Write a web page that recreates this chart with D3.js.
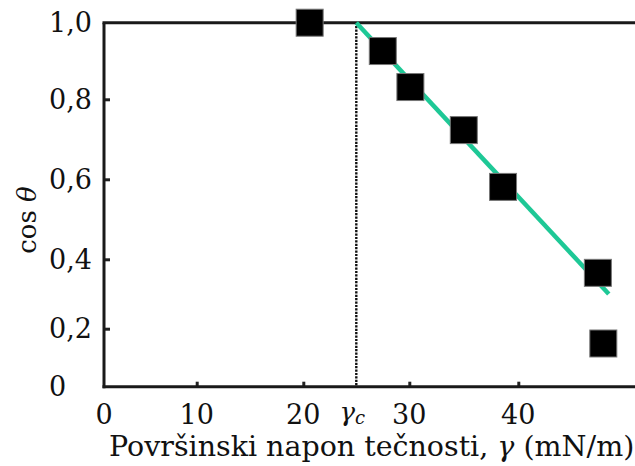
<!DOCTYPE html>
<html>
<head>
<meta charset="utf-8">
<script src="https://cdn.jsdelivr.net/npm/d3@7/dist/d3.min.js"></script>
<style>
  html, body { margin: 0; padding: 0; background: #fff; }
  svg { display: block; }
</style>
</head>
<body>
<svg id="chart" width="635" height="466"></svg>
<script>
// ---- data ----
const gamma = [20.6, 27.5, 30.1, 35.0, 38.6, 47.3, 47.8];
const cosTheta = [1.0, 0.926, 0.832, 0.723, 0.581, 0.361, 0.149];
const gammaC = 25;
const fitX = [25, 48.3];
const fitY = [1.0, 0.30];
const xTicks = [0, 10, 20, 30, 40];
const xTickLabels = ["0", "10", "20", "30", "40"];
const yTicks = [0, 0.2, 0.4, 0.6, 0.8, 1.0];
const yTickLabels = ["0", "0,2", "0,4", "0,6", "0,8", "1,0"];

const FONT = "DejaVu Serif";
const svg = d3.select("#chart");

// piecewise scales (reference axis spacing is not uniform)
const x = d3.scaleLinear().domain([0, 10, 20, 30, 40, 50]).range([104, 196.7, 303.3, 409.3, 518.3, 627.3]);
const y = d3.scaleLinear().domain([0, 0.2, 0.4, 0.6, 0.8, 1.0]).range([386.7, 328.7, 259.3, 179.3, 99.3, 22.7]);

const x0 = x(0), y0 = y(0), yTop = y(1.0);

// axes (ticks inward)
const yAxis = d3.axisLeft(y).tickValues(yTicks.slice(1, 5)).tickSizeInner(-6).tickSizeOuter(0).tickFormat("");
const gy = svg.append("g").attr("transform", `translate(${x0},0)`).call(yAxis);
gy.select(".domain").remove();
gy.selectAll(".tick line").attr("stroke", "#222").attr("stroke-width", 3);

const xAxis = d3.axisBottom(x).tickValues(xTicks.slice(1)).tickSizeInner(-5).tickSizeOuter(0).tickFormat("");
const gx = svg.append("g").attr("transform", `translate(0,${y0})`).call(xAxis);
gx.select(".domain").remove();
gx.selectAll(".tick line").attr("stroke", "#222").attr("stroke-width", 3);

// frame lines: left, bottom, top
svg.append("line").attr("x1", x0).attr("x2", x0).attr("y1", yTop).attr("y2", y0 + 1.5)
  .attr("stroke", "#1a1a1a").attr("stroke-width", 3);
svg.append("line").attr("x1", x0 - 1.5).attr("x2", 635).attr("y1", y0).attr("y2", y0)
  .attr("stroke", "#1a1a1a").attr("stroke-width", 3);
svg.append("line").attr("x1", x0 - 1.5).attr("x2", 635).attr("y1", yTop).attr("y2", yTop)
  .attr("stroke", "#1a1a1a").attr("stroke-width", 3);

// y tick labels (left aligned)
svg.selectAll(".ylab").data(yTicks).enter().append("text")
  .style("font-family", FONT).attr("fill", "#111")
  .attr("x", 49).attr("y", d => y(d)).attr("dy", "0.36em")
  .style("font-size", "27px").attr("text-anchor", "start")
  .text((d, i) => yTickLabels[i]);

// x tick labels
svg.selectAll(".xlab").data(xTicks).enter().append("text")
  .style("font-family", FONT).attr("fill", "#111")
  .attr("x", d => x(d)).attr("y", 424)
  .style("font-size", "27px").attr("text-anchor", "middle")
  .text((d, i) => xTickLabels[i]);

// gamma_c label
const gc = svg.append("text").style("font-family", FONT).attr("fill", "#111")
  .attr("x", x(gammaC) - 4).attr("y", 421).attr("text-anchor", "middle")
  .style("font-size", "26px").attr("font-style", "italic");
gc.append("tspan").text("γ");
gc.append("tspan").style("font-size", "18px").attr("dy", 3).text("c");

// dotted vertical line at gamma_c
svg.append("line").attr("x1", x(gammaC)).attr("x2", x(gammaC)).attr("y1", yTop).attr("y2", y0)
  .attr("stroke", "#111").attr("stroke-width", 2.4).attr("stroke-dasharray", "2.2,1.2");

// fitted line
svg.append("line")
  .attr("x1", x(fitX[0])).attr("y1", y(fitY[0])).attr("x2", x(fitX[1])).attr("y2", y(fitY[1]))
  .attr("stroke", "#1ec896").attr("stroke-width", 4.5);

// markers
const s = 27;
svg.selectAll(".pt").data(gamma).enter().append("rect")
  .attr("x", d => x(d) - s / 2).attr("y", (d, i) => y(cosTheta[i]) - s / 2)
  .attr("width", s).attr("height", s)
  .attr("fill", "#000").attr("stroke", "#777").attr("stroke-width", 1);

// axis titles
const yl = svg.append("text").style("font-family", FONT).attr("fill", "#111")
  .attr("transform", "translate(36,220) rotate(-90)")
  .attr("text-anchor", "middle").style("font-size", "26px");
yl.append("tspan").text("cos ");
yl.append("tspan").attr("font-style", "italic").text("θ");

const xl = svg.append("text").style("font-family", FONT).attr("fill", "#111")
  .attr("x", 109).attr("y", 456).style("font-size", "28.5px").attr("text-anchor", "start");
xl.append("tspan").text("Površinski napon tečnosti, ");
xl.append("tspan").attr("font-style", "italic").text("γ");
xl.append("tspan").text(" (mN/m)");
</script>
</body>
</html>
